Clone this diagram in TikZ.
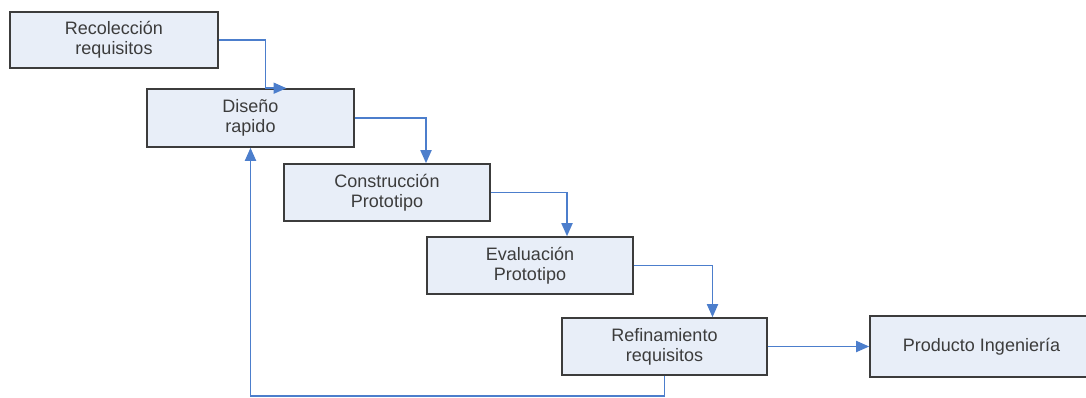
\documentclass[tikz,border=0pt]{standalone}
\usepackage{fontspec}
\setmainfont{Liberation Sans}
\usetikzlibrary{arrows.meta}
\definecolor{boxfill}{RGB}{232,238,248}
\definecolor{boxline}{RGB}{60,60,60}
\definecolor{flowblue}{RGB}{76,126,204}
\definecolor{textgray}{RGB}{60,60,60}
\begin{document}
\begin{tikzpicture}[x=1pt,y=-1pt,
  stage/.style={draw=boxline,line width=1.6pt,fill=boxfill,rectangle,
    minimum width=207pt,minimum height=57pt,align=center,inner sep=0pt,
    text=textgray,font=\fontsize{18}{20}\selectfont},
  flow/.style={draw=flowblue,line width=1.8pt,
    -{Triangle[length=13pt,width=11pt]}}]
  \useasboundingbox[fill=white] (0,0) rectangle (1086,397);

  % process stages
  \node[stage,minimum width=208pt,minimum height=56pt] (rec) at (114,40) {Recolección\\requisitos};
  \node[stage,minimum height=58pt] (dis) at (250.5,118) {Diseño\\rapido};
  \node[stage,minimum width=206pt] (con) at (387,192.5) {Construcción\\Prototipo};
  \node[stage,minimum width=206pt] (eva) at (530,265.5) {Evaluación\\Prototipo};
  \node[stage,minimum width=205pt] (ref) at (664.5,346.5) {Refinamiento\\requisitos};
  \node[stage,minimum width=223pt,minimum height=61pt] (pro) at (981.5,346.5) {Producto Ingeniería};

  % flow between stages
  \coordinate (tip) at ([xshift=36pt]dis.north);
  \draw[flow] (rec.east) -| ([xshift=15pt]dis.north) -- (tip);
  \draw[flow] (dis.east) -| ([xshift=39pt]con.north);
  \draw[flow] (con.east) -| ([xshift=37pt]eva.north);
  \draw[flow] (eva.east) -| ([xshift=48pt]ref.north);
  \draw[flow] (ref.east) -- (pro.west);

  % feedback loop back to the design stage
  \coordinate (loop) at ([yshift=-20pt]ref.south);
  \draw[flow] (ref.south) -- (loop) -| (dis.south);
\end{tikzpicture}
\end{document}
